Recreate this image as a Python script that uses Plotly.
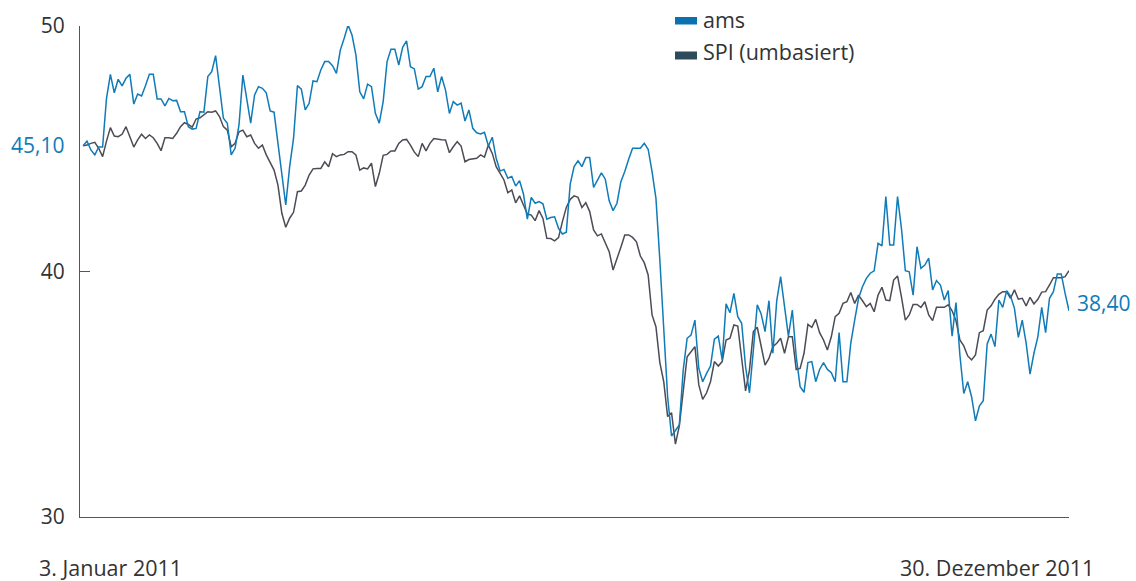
import plotly.graph_objects as go

# ---- data ----
ams = [
    # Jan - Feb
    45.12, 45.31, 44.95, 44.75, 45.07, 45.07, 47.05, 48.03, 47.28, 47.83, 47.56, 47.87, 48.03, 46.82, 47.23, 47.15,
    47.57, 48.03, 48.03, 47.03, 47.03, 46.75, 47.05, 46.96, 46.97, 46.51, 46.51, 45.90, 45.80, 45.83, 46.51,
    46.49, 47.94, 48.14, 48.79, 47.53, 46.24, 46.04, 44.75, 45.02, 45.97, 48.00, 46.99, 46.04, 47.19, 47.53,
    47.46, 47.28, 46.54, 46.49, 45.22, 43.93, 42.71, 44.27, 45.42, 47.57, 47.43, 46.58, 46.85, 47.76, 47.73, 48.21,
    # Apr - May
    48.55, 48.55, 48.38, 48.07, 49.02, 49.50, 50.04, 49.63, 48.82, 47.32, 47.03, 47.63, 47.53, 46.44, 46.04,
    46.92, 48.55, 49.05, 49.05, 48.41, 49.13, 49.39, 48.34, 48.25, 47.43, 47.53, 47.94, 47.94, 48.28, 47.32,
    47.94, 47.39,
    46.44, 46.92, 46.78, 46.86, 46.13, 46.58, 45.83, 45.65, 45.60, 45.67, 45.11, 45.47, 44.61, 44.09, 44.16,
    43.80, 43.87, 43.48, 43.70, 43.16, 42.13, 43.02, 42.78, 42.85, 42.76, 42.13, 42.20, 42.23, 41.76,
    # Jul - Aug
    41.53, 41.60, 43.56, 44.27, 44.51, 44.27, 44.64, 44.64, 43.43, 43.76, 44.02, 43.76, 42.88, 42.48, 42.78,
    43.66, 44.07, 44.57, 45.02, 45.02, 45.02, 45.22, 44.98, 44.07, 42.98, 40.47, 37.75, 34.90, 33.30, 33.54, 33.75,
    35.98, 37.28, 37.41, 38.02, 36.05, 35.51, 35.85, 36.15, 37.24, 37.37, 36.40, 38.68, 38.32, 39.11, 38.16,
    37.89, 36.12, 35.06, 36.80, 38.64, 38.27, 37.55, 38.81, 36.67, 38.81, 39.79, 38.57, 37.37, 38.43, 36.53, 35.31,
    # Oct - Nov
    35.08, 36.29, 36.33, 35.51, 36.01, 36.29, 36.01, 35.88, 35.51, 37.51, 35.51, 35.51, 37.08, 38.02, 38.91,
    39.38, 39.72, 39.93, 40.03, 41.15, 41.04, 43.05, 41.08, 41.08, 43.05, 41.76, 40.03, 39.99, 39.04, 41.01, 40.13,
    40.26, 40.54, 39.25, 39.63, 39.45, 38.84, 39.22, 37.37, 38.73, 36.60, 35.03, 35.51, 34.90, 33.92, 34.52,
    34.74, 37.05, 37.45, 36.94, 38.84, 38.54, 39.22, 39.00, 38.50, 37.32, 38.02, 37.08, 35.82, 36.67, 37.34,
    38.54, 37.51, 38.91, 39.18, 39.90, 39.90, 39.11, 38.40,
]

spi = [
    45.12, 45.15, 45.22, 45.26, 45.02, 44.68, 45.31, 45.86, 45.52, 45.49, 45.59, 45.90, 45.49, 45.07, 45.36, 45.59,
    45.42, 45.56, 45.45, 45.22, 44.92, 45.45, 45.45, 45.42, 45.63, 45.90, 46.06, 45.99, 45.88, 46.21, 46.26,
    46.40, 46.51, 46.49, 46.54, 46.31, 45.90, 45.76, 45.08, 45.22, 45.69, 45.76, 45.49, 45.56, 45.22, 45.02,
    45.15, 44.75, 44.47, 44.13, 43.52, 42.37, 41.80, 42.17, 42.41, 43.25, 43.28, 43.52, 43.93, 44.18, 44.20, 44.20,
    44.47, 44.27, 44.80, 44.68, 44.75, 44.77, 44.88, 44.88, 44.75, 44.13, 44.22, 44.18, 44.41, 43.46, 44.00,
    44.73, 44.77, 44.91, 44.91, 45.22, 45.36, 45.38, 45.15, 44.86, 44.68, 45.22, 44.91, 45.22, 45.42, 45.38,
    45.37, 45.36,
    44.84, 45.08, 45.29, 45.11, 44.47, 44.56, 44.59, 44.61, 44.75, 44.66, 45.15, 44.81, 44.27, 44.02, 43.73,
    43.21, 43.32, 42.80, 43.08, 42.71, 42.34, 42.30, 42.07, 42.48, 42.16, 41.35, 41.34, 41.25, 41.38,
    42.03, 42.61, 42.94, 43.08, 43.02, 42.61, 42.80, 42.44, 41.69, 41.45, 41.53, 41.17, 40.81, 40.06, 40.50,
    40.99, 41.49, 41.49, 41.39, 41.21, 40.63, 40.36, 39.86, 38.23, 37.75, 36.29, 35.51, 34.09, 34.25, 32.97, 33.71,
    35.03, 36.53, 36.73, 36.94, 35.38, 34.79, 35.06, 35.51, 36.33, 36.15, 36.33, 37.21, 37.28, 37.82, 37.78,
    36.53, 35.14, 35.98, 37.55, 37.73, 36.94, 36.19, 36.46, 36.94, 37.08, 37.28, 36.67, 37.34, 37.34, 36.01, 36.05,
    36.67, 37.85, 37.73, 38.05, 37.51, 37.21, 36.80, 37.34, 38.16, 38.30, 38.70, 38.77, 39.14, 38.70, 39.04,
    38.81, 38.57, 38.70, 38.36, 39.04, 39.36, 38.84, 38.81, 39.65, 39.82, 38.97, 38.02, 38.23, 38.66, 38.66, 38.54,
    38.77, 38.23, 38.00, 38.54, 38.54, 38.54, 38.64, 38.40, 38.00, 37.21, 36.97, 36.56, 36.40, 36.60, 37.51,
    37.59, 38.43, 38.60, 38.87, 39.07, 39.18, 39.18, 38.91, 39.25, 38.87, 38.91, 38.60, 38.95, 38.68, 38.87,
    39.16, 39.18, 39.45, 39.75, 39.75, 39.75, 39.79, 40.03,
]

series_names = ["ams", "SPI (umbasiert)"]
y_ticks = [30, 40, 50]
start_label = "3. Januar 2011"
end_label = "30. Dezember 2011"
start_value_label = "45,10"
end_value_label = "38,40"

# ---- styling ----
BLUE = "#0f7bb8"
GREY = "#4b4c55"
SWATCH_DARK = "#2e4b5b"
TEXT = "#333333"
FONT = "Open Sans"

W, H = 1136, 581
L, R, T, B = 80, 67, 26, 64
PW, PH = W - L - R, H - T - B


def xp(px):
    return (px - L) / PW


def yp(py):
    return (H - B - py) / PH


n = len(ams)
x = list(range(n))

fig = go.Figure()
fig.add_trace(go.Scatter(x=x, y=spi, mode="lines", name=series_names[1],
                         line=dict(color=GREY, width=1.5), showlegend=False))
fig.add_trace(go.Scatter(x=x, y=ams, mode="lines", name=series_names[0],
                         line=dict(color=BLUE, width=1.5), showlegend=False))

fig.update_layout(
    width=W, height=H,
    margin=dict(l=L, r=R, t=T, b=B, pad=0),
    paper_bgcolor="white", plot_bgcolor="white",
    font=dict(family=FONT, size=20, color=TEXT),
    xaxis=dict(range=[-0.8, n - 1], showgrid=False, zeroline=False,
               showticklabels=False, ticks="", showline=True,
               linecolor="#555555", linewidth=1),
    yaxis=dict(range=[30, 50], tickvals=y_ticks, ticktext=[str(v) for v in y_ticks],
               showgrid=False, zeroline=False, showline=True,
               linecolor="#555555", linewidth=1,
               ticks="inside", ticklen=10, tickcolor="#555555", tickwidth=1,
               ticklabelstandoff=10,
               tickfont=dict(family=FONT, size=21, color=TEXT)),
)

LBL = 21.5
annotations = [
    dict(x=xp(37), y=yp(567), xref="paper", yref="paper", text=start_label,
         showarrow=False, xanchor="left", yanchor="middle",
         font=dict(family=FONT, size=LBL, color=TEXT)),
    dict(x=xp(1096), y=yp(567), xref="paper", yref="paper", text=end_label,
         showarrow=False, xanchor="right", yanchor="middle",
         font=dict(family=FONT, size=LBL, color=TEXT)),
    dict(x=xp(66), y=yp(145), xref="paper", yref="paper", text=start_value_label,
         showarrow=False, xanchor="right", yanchor="middle",
         font=dict(family=FONT, size=21, color=BLUE)),
    dict(x=xp(1075), y=yp(303), xref="paper", yref="paper", text=end_value_label,
         showarrow=False, xanchor="left", yanchor="middle",
         font=dict(family=FONT, size=21, color=BLUE)),
    dict(x=xp(701), y=yp(19), xref="paper", yref="paper", text=series_names[0],
         showarrow=False, xanchor="left", yanchor="middle",
         font=dict(family=FONT, size=LBL, color=TEXT)),
    dict(x=xp(701), y=yp(52), xref="paper", yref="paper", text=series_names[1],
         showarrow=False, xanchor="left", yanchor="middle",
         font=dict(family=FONT, size=LBL, color=TEXT)),
]
fig.update_layout(annotations=annotations)

fig.add_shape(type="rect", xref="paper", yref="paper",
              x0=xp(675), x1=xp(697), y0=yp(24.5), y1=yp(17), line_width=0,
              fillcolor="#0a72b0")
fig.add_shape(type="rect", xref="paper", yref="paper",
              x0=xp(675), x1=xp(697), y0=yp(59.5), y1=yp(51.5), line_width=0,
              fillcolor=SWATCH_DARK)

fig.write_html("out.html")
